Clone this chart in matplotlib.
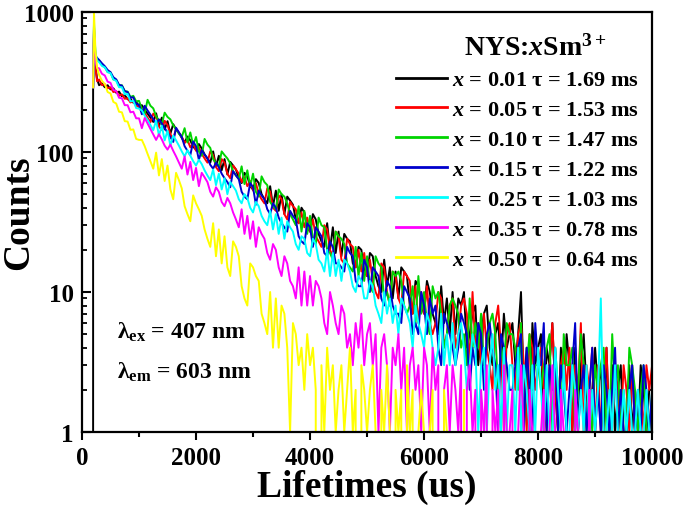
import matplotlib
matplotlib.use("Agg")
import matplotlib.pyplot as plt
import numpy as np
from matplotlib.ticker import MultipleLocator, FixedLocator, LogLocator, NullFormatter

nan = np.nan

# fonts: Times-like bold everywhere
plt.rcParams['font.family'] = ['Liberation Serif', 'DejaVu Serif']
plt.rcParams['font.weight'] = 'bold'
plt.rcParams['mathtext.fontset'] = 'custom'
plt.rcParams['mathtext.rm'] = 'Liberation Serif:bold'
plt.rcParams['mathtext.it'] = 'Liberation Serif:italic:bold'
plt.rcParams['mathtext.bf'] = 'Liberation Serif:bold'

# time channels (us): a few points on the rising edge, then 50 us channels
t_us = [190, 195, 210, 235, 265] + list(range(300, 10001, 50))

# counts (0 = empty channel)
x001 = [0, 290, 700, 420, 330, 300, 310, 290, 300, 280, 285, 265, 270, 250, 255, 238, 240, 225, 228, 212,
        216, 200, 188, 176, 164, 189, 153, 176, 145, 166,
        135, 158, 145, 137, 126, 117, 129, 121, 109, 104,
        114, 106, 96, 90, 84, 101, 79, 94, 74, 89,
        69, 85, 80, 75, 65, 60, 71, 67, 57, 54,
        64, 60, 50, 46, 43, 57, 41, 53, 38, 50,
        36, 48, 45, 42, 33, 31, 40, 37, 29, 27,
        36, 33, 26, 23, 21, 31, 20, 29, 19, 27,
        18, 26, 24, 23, 16, 15, 21, 20, 14, 13,
        19, 18, 13, 11, 10, 17, 11, 15, 9, 14,
        9, 15, 14, 13, 8, 7, 12, 11, 8, 7,
        12, 10, 7, 6, 5, 11, 6, 9, 5, 10,
        5, 9, 8, 10, 4, 5, 7, 8, 3, 5,
        7, 8, 4, 3, 5, 6, 3, 7, 4, 5,
        6, 3, 5, 10, 2, 4, 1, 6, 3, 4,
        5, 1, 4, 3, 6, 2, 1, 4, 2, 5,
        3, 1, 4, 1, 3, 5, 2, 1, 2, 4,
        2, 3, 1, 4, 1, 3, 1, 2, 3, 1,
        1, 3, 1, 2, 1, 3, 2, 1, 2, 2]
x005 = [nan, 290, 650, 400, 320, 330, 300, 305, 285, 290, 268, 272, 252, 258, 240, 242, 226, 230, 214, 210,
        201, 190, 176, 163, 188, 178, 152, 144, 167, 156,
        134, 124, 147, 137, 129, 116, 122, 108, 115, 102,
        108, 97, 90, 84, 101, 95, 78, 73, 89, 84,
        70, 65, 80, 75, 70, 61, 66, 57, 62, 53,
        60, 50, 46, 43, 55, 52, 40, 38, 49, 46,
        36, 33, 44, 41, 39, 31, 37, 29, 34, 27,
        33, 25, 23, 21, 30, 28, 20, 18, 27, 25,
        17, 16, 24, 22, 21, 15, 20, 14, 19, 13,
        17, 12, 10, 9, 16, 15, 10, 8, 14, 13,
        9, 8, 14, 13, 12, 7, 11, 6, 10, 7,
        11, 6, 5, 6, 10, 9, 4, 5, 8, 9,
        4, 5, 8, 9, 7, 3, 10, 4, 6, 3,
        7, 4, 3, 2, 6, 8, 4, 1, 5, 6,
        3, 2, 5, 6, 3, 1, 5, 4, 2, 3,
        4, 2, 1, 3, 6, 2, 1, 3, 4, 2,
        4, 1, 3, 2, 6, 1, 3, 2, 4, 1,
        3, 1, 2, 4, 1, 1, 3, 2, 1, 3,
        2, 1, 3, 1, 1, 2, 1, 3, 2, 3]
x010 = [nan, 290, 800, 510, 455, 450, 420, 405, 372, 370, 330, 328, 296, 300, 272, 270, 247, 252, 230, 232,
        203, 188, 236, 214, 205, 180, 168, 158, 191, 178,
        171, 155, 146, 135, 128, 148, 117, 138, 112, 128,
        101, 94, 124, 113, 107, 89, 83, 79, 101, 95,
        90, 83, 73, 68, 64, 79, 59, 74, 57, 70,
        52, 48, 67, 61, 58, 44, 41, 39, 54, 50,
        48, 43, 36, 33, 30, 41, 27, 38, 26, 35,
        24, 22, 34, 30, 29, 20, 19, 17, 27, 25,
        24, 22, 16, 15, 14, 21, 13, 19, 12, 18,
        11, 10, 18, 16, 15, 9, 10, 8, 14, 13,
        14, 12, 8, 7, 8, 11, 6, 13, 7, 10,
        6, 5, 11, 9, 10, 7, 4, 5, 8, 9,
        8, 7, 4, 5, 3, 9, 4, 6, 4, 7,
        3, 4, 6, 7, 5, 2, 4, 3, 6, 5,
        5, 4, 2, 6, 1, 3, 5, 2, 3, 3,
        2, 3, 4, 5, 1, 4, 2, 1, 5, 3,
        3, 4, 1, 2, 5, 3, 1, 2, 1, 3,
        2, 3, 4, 1, 1, 5, 2, 3, 1, 2,
        1, 4, 3, 2, 1, 2, 3, 1, 1, 2]
x015 = [nan, 290, 750, 480, 470, 455, 430, 410, 385, 372, 342, 330, 302, 298, 272, 268, 244, 246, 220, 218,
        186, 214, 198, 185, 172, 160, 171, 160, 148, 138,
        128, 118, 149, 138, 128, 110, 102, 95, 119, 110,
        88, 103, 96, 90, 81, 76, 84, 78, 70, 65,
        61, 56, 73, 68, 64, 52, 48, 46, 60, 56,
        42, 53, 49, 46, 39, 36, 43, 40, 34, 31,
        29, 27, 38, 35, 33, 25, 23, 22, 31, 29,
        21, 29, 27, 25, 19, 18, 23, 21, 16, 16,
        15, 14, 21, 19, 18, 12, 11, 11, 17, 15,
        10, 15, 14, 13, 9, 8, 12, 11, 8, 7,
        7, 6, 11, 10, 9, 5, 6, 5, 10, 8,
        5, 9, 7, 8, 4, 3, 7, 6, 5, 4,
        3, 4, 7, 6, 5, 2, 4, 3, 6, 5,
        2, 5, 6, 4, 3, 1, 5, 4, 3, 2,
        2, 3, 4, 5, 1, 4, 2, 1, 6, 3,
        3, 6, 1, 3, 2, 4, 1, 3, 2, 1,
        2, 3, 6, 1, 2, 3, 1, 2, 4, 1,
        2, 1, 3, 2, 1, 2, 4, 1, 2, 1,
        1, 2, 3, 1, 2, 1, 3, 2, 1, 2]
x025 = [nan, 290, 850, 510, 450, 438, 412, 402, 372, 366, 330, 322, 290, 290, 258, 260, 230, 232, 206, 204,
        198, 182, 170, 156, 143, 168, 131, 154, 121, 142,
        111, 131, 121, 111, 101, 93, 103, 94, 86, 80,
        88, 82, 74, 68, 63, 75, 58, 70, 54, 65,
        50, 61, 57, 53, 46, 43, 50, 47, 40, 37,
        44, 41, 35, 32, 30, 38, 28, 36, 26, 34,
        24, 32, 29, 27, 22, 20, 25, 24, 19, 18,
        24, 22, 17, 16, 14, 20, 13, 19, 13, 17,
        12, 17, 16, 14, 11, 10, 13, 12, 9, 9,
        12, 11, 8, 7, 6, 10, 7, 9, 6, 8,
        5, 9, 8, 7, 6, 4, 8, 6, 5, 4,
        7, 6, 4, 3, 4, 7, 3, 5, 3, 6,
        3, 5, 6, 4, 2, 3, 5, 4, 1, 3,
        4, 1, 3, 5, 2, 3, 1, 4, 1, 3,
        3, 1, 4, 1, 3, 2, 1, 3, 1, 4,
        2, 1, 3, 1, 1, 4, 2, 1, 3, 1,
        1, 3, 2, 1, 2, 1, 3, 1, 2, 1,
        2, 9, 1, 1, 2, 1, 3, 1, 1, 2,
        1, 2, 1, 1, 2, 1, 1, 2, 1, 1]
x035 = [nan, 290, 780, 440, 400, 396, 362, 352, 318, 312, 278, 272, 244, 242, 216, 216, 192, 194, 174, 174,
        148, 175, 160, 146, 134, 122, 134, 123, 111, 104,
        113, 102, 93, 84, 76, 93, 69, 85, 63, 77,
        57, 71, 66, 61, 52, 48, 56, 52, 44, 41,
        47, 43, 37, 33, 29, 39, 26, 35, 24, 32,
        21, 29, 26, 24, 19, 17, 22, 20, 15, 13,
        18, 16, 12, 11, 9, 15, 8, 14, 8, 13,
        8, 12, 11, 9, 6, 5, 10, 8, 6, 5,
        8, 7, 4, 5, 3, 6, 4, 7, 3, 5,
        6, 3, 5, 1, 4, 5, 3, 1, 4, 3,
        5, 2, 4, 1, 3, 4, 2, 3, 1, 4,
        3, 1, 4, 2, 3, 0, 2, 3, 1, 3,
        2, 1, 3, 0, 2, 3, 1, 2, 0, 2,
        1, 3, 0, 2, 1, 2, 0, 3, 1, 1,
        2, 0, 1, 3, 1, 0, 2, 1, 1, 0,
        1, 2, 0, 1, 3, 1, 0, 2, 1, 0,
        1, 0, 2, 1, 0, 1, 0, 2, 0, 1,
        0, 1, 0, 1, 0, 0, 1, 0, 0, 1,
        0, 0, 1, 0, 0, 0, 1, 0, 0, 0]
x050 = [nan, 290, 1000, 540, 400, 356, 322, 306, 268, 262, 228, 222, 194, 192, 166, 165, 144, 145, 124, 122,
        122, 110, 97, 86, 76, 99, 68, 89, 62, 80,
        54, 46, 71, 63, 55, 41, 36, 32, 49, 43,
        39, 35, 28, 24, 21, 31, 18, 28, 16, 25,
        15, 13, 23, 21, 18, 11, 9, 8, 16, 15,
        13, 12, 7, 6, 5, 10, 4, 9, 4, 8,
        7, 4, 1, 6, 5, 3, 4, 2, 5, 3,
        4, 2, 0, 3, 1, 4, 2, 3, 1, 2,
        3, 1, 2, 4, 1, 2, 0, 3, 2, 1,
        2, 3, 1, 0, 2, 1, 3, 1, 0, 2,
        1, 2, 0, 3, 1, 2, 0, 1, 2, 1,
        0, 1, 2, 0, 1, 0, 2, 1, 0, 1,
        1, 0, 0, 2, 0, 1, 0, 0, 1, 0,
        0, 0, 1, 0, 0, 0, 1, 0, 0, 0,
        0, 0, 0, 0, 0, 0, 0, 0, 0, 0,
        0, 0, 0, 0, 0, 0, 0, 0, 0, 0,
        0, 0, 0, 0, 0, 0, 0, 0, 0, 0,
        0, 0, 0, 0, 0, 0, 0, 0, 0, 0,
        0, 0, 0, 0, 0, 0, 0, 0, 0, 0]

conc = ['0.01', '0.05', '0.10', '0.15', '0.25', '0.35', '0.50']
tau = ['1.69', '1.53', '1.47', '1.22', '1.03', '0.78', '0.64']
series = [x001, x005, x010, x015, x025, x035, x050]
colors = ['#000000', '#ff0000', '#00d400', '#0000cc', '#00ffff', '#ff00ff', '#ffff00']

fig = plt.figure(figsize=(6.85, 5.10), dpi=100)
ax = fig.add_axes([0.1197, 0.151, 0.8323, 0.8235])

for y, c, xc, tc in zip(series, colors, conc, tau):
    ax.plot(t_us, y, color=c, lw=1.4, label=r'$x$ = ' + xc + ' τ = ' + tc + ' ms')

ax.set_yscale('log', nonpositive='clip')
ax.set_xlim(0, 10000)
ax.set_ylim(1, 1000)

ax.xaxis.set_major_locator(MultipleLocator(2000))
ax.xaxis.set_minor_locator(MultipleLocator(1000))
ax.yaxis.set_major_locator(FixedLocator([1, 10, 100, 1000]))
ax.yaxis.set_minor_locator(LogLocator(base=10, subs=np.arange(2, 10)))
ax.yaxis.set_minor_formatter(NullFormatter())
ax.set_yticklabels(['1', '10', '100', '1000'])

ax.tick_params(axis='x', which='major', direction='out', length=6, width=1.5,
               labelsize=18, pad=4, top=False)
ax.tick_params(axis='x', which='minor', direction='out', length=3.5, width=1.5, top=False)
ax.tick_params(axis='y', which='major', direction='in', length=6.5, width=1.5,
               labelsize=18, pad=6, right=False)
ax.tick_params(axis='y', which='minor', direction='in', length=3.5, width=1.3, right=False)
for s in ax.spines.values():
    s.set_linewidth(1.6)

ax.set_xlabel('Lifetimes (us)', fontsize=27, fontweight='bold', labelpad=0)
ax.set_ylabel('Counts', fontsize=27, fontweight='bold')
ax.yaxis.label.set_va('center')
ax.yaxis.set_label_coords(-0.112, 0.524)

# legend title drawn as its own text, centred over the entries
ax.text(0.795, 0.917, r'NYS:$x$Sm$^{3+}$', transform=ax.transAxes,
        fontsize=20, fontweight='bold', ha='center', va='center')
leg = ax.legend(loc='upper right', bbox_to_anchor=(0.985, 0.873), frameon=False,
                fontsize=16, handlelength=2.3, handletextpad=0.25, labelspacing=0.42,
                borderaxespad=0, borderpad=0.2)
for ln in leg.get_lines():
    ln.set_linewidth(2)

ax.text(0.061, 0.24, 'λ$_{\\mathrm{ex}}$ = 407 nm', transform=ax.transAxes,
        fontsize=17, fontweight='bold', va='center')
ax.text(0.061, 0.145, 'λ$_{\\mathrm{em}}$ = 603 nm', transform=ax.transAxes,
        fontsize=17, fontweight='bold', va='center')

fig.savefig('out.png', dpi=100)
